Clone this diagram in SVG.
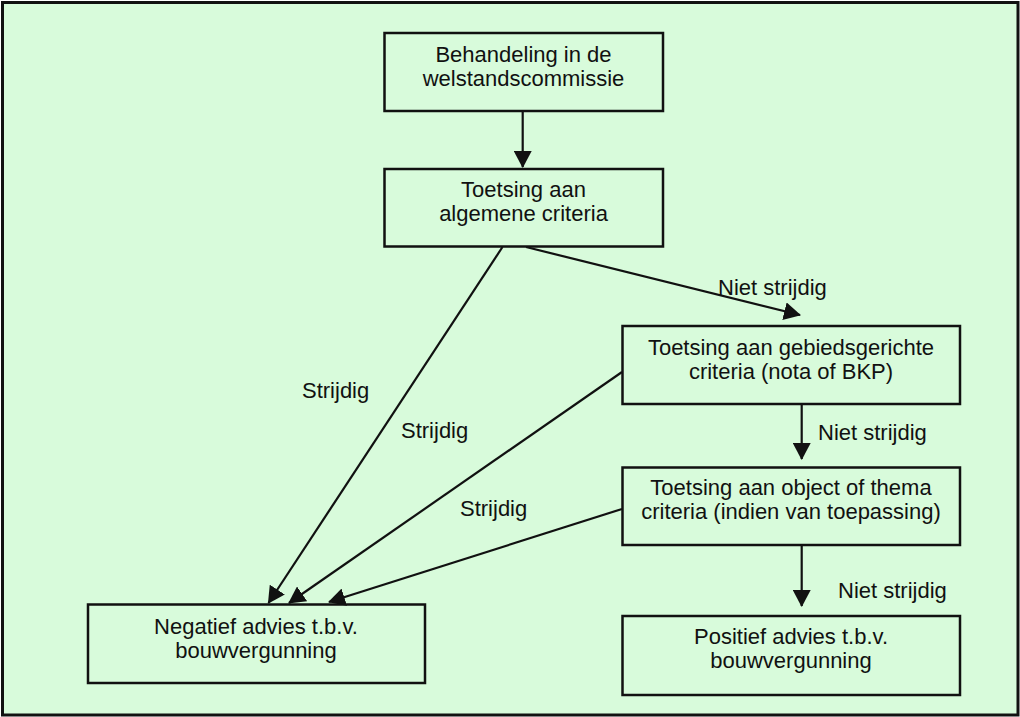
<svg xmlns="http://www.w3.org/2000/svg" width="1020" height="717" viewBox="0 0 1020 717">
<defs>
<style>
.box{fill:none;stroke:#111;stroke-width:2.5}
.t{font-family:"Liberation Sans",Arial,sans-serif;font-size:22px;fill:#111}
.c{text-anchor:middle}
.ln{stroke:#111;stroke-width:2.2;fill:none;marker-end:url(#ah)}
</style>
<marker id="ah" markerUnits="userSpaceOnUse" markerWidth="17" markerHeight="18" refX="16" refY="9" orient="auto" viewBox="0 0 17 18">
<path d="M0,0 L17,9 L0,18 z" fill="#111"/>
</marker>
</defs>
<rect x="0" y="0" width="1020" height="717" fill="#ffffff"/>
<rect x="2.5" y="2.5" width="1015.5" height="712.5" fill="#d8fbdb" stroke="#111" stroke-width="3"/>
<g id="connectors">
<line class="ln" x1="522.7" y1="111" x2="522.7" y2="167"/>
<line class="ln" x1="526" y1="247" x2="800" y2="315"/>
<line class="ln" x1="801.7" y1="404" x2="801.7" y2="459"/>
<line class="ln" x1="801.7" y1="545" x2="801.7" y2="606"/>
<line class="ln" x1="502.5" y1="247" x2="268.5" y2="603"/>
<line class="ln" x1="622" y1="372" x2="289" y2="603"/>
<line class="ln" x1="622" y1="509" x2="329" y2="602"/>
<text class="t" x="718" y="295">Niet strijdig</text>
<text class="t" x="818" y="440">Niet strijdig</text>
<text class="t" x="838" y="598">Niet strijdig</text>
<text class="t" x="302" y="398">Strijdig</text>
<text class="t" x="401" y="438">Strijdig</text>
<text class="t" x="460" y="516">Strijdig</text>
</g>
<g id="n1">
<rect class="box" x="384.5" y="33" width="278.5" height="78"/>
<text class="t c" x="523.5" y="62">Behandeling in de</text>
<text class="t c" x="523.5" y="85.5">welstandscommissie</text>
</g>
<g id="n2">
<rect class="box" x="384.5" y="169" width="278.5" height="77.5"/>
<text class="t c" x="523.5" y="197">Toetsing aan</text>
<text class="t c" x="523.5" y="221">algemene criteria</text>
</g>
<g id="n3">
<rect class="box" x="622.5" y="326" width="337.5" height="78"/>
<text class="t c" x="791" y="355">Toetsing aan gebiedsgerichte</text>
<text class="t c" x="791" y="378.5">criteria (nota of BKP)</text>
</g>
<g id="n4">
<rect class="box" x="622.5" y="467.5" width="337.5" height="77.5"/>
<text class="t c" x="791" y="495">Toetsing aan object of thema</text>
<text class="t c" x="791" y="518.5">criteria (indien van toepassing)</text>
</g>
<g id="n5">
<rect class="box" x="622.5" y="616" width="337.5" height="79"/>
<text class="t c" x="791" y="643.5">Positief advies t.b.v.</text>
<text class="t c" x="791" y="667.5">bouwvergunning</text>
</g>
<g id="n6">
<rect class="box" x="88" y="604.5" width="337" height="78.5"/>
<text class="t c" x="256" y="633.5">Negatief advies t.b.v.</text>
<text class="t c" x="256" y="657.5">bouwvergunning</text>
</g>
</svg>
